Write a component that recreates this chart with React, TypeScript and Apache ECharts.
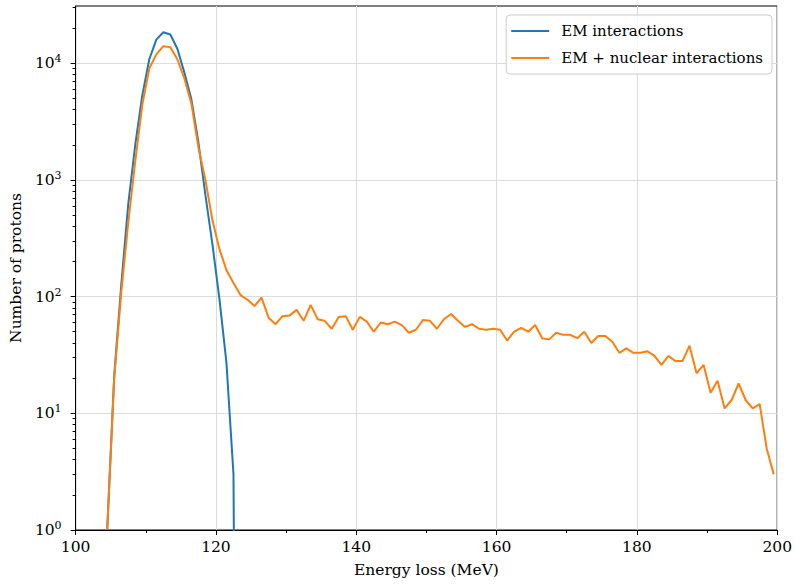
import React, { useEffect, useRef } from "react";
import * as echarts from "echarts";

// Histogram: 1 MeV bins, values plotted at bin centres starting at 104.5 MeV
const FIRST_BIN_CENTER = 104.5;
const BIN_WIDTH = 1;

// EM interactions only (zero counts after the last bin)
const emCounts = [
  1, 21, 125, 620, 2000, 5300, 10800, 15900, 18400, 17600, 13300, 8300, 4900, 2100, 740,
  280, 95, 27, 3, 0,
];

// EM + nuclear interactions
const emNuclearCounts = [
  1, 20, 108, 430, 1450, 4400, 9000, 11900, 14000, 13700, 10800, 7400, 4500, 1900, 1000,
  450, 255, 168, 131, 103, 94, 83, 98, 66, 58, 68, 69, 77, 62, 85,
  64, 62, 53, 67, 68, 52, 67, 61, 50, 60, 58, 61, 57, 49, 52,
  63, 62, 53, 64, 71, 62, 55, 58, 53, 52, 53, 52, 42, 50, 54,
  50, 57, 44, 43, 49, 47, 47, 44, 50, 40, 46, 46, 41, 33, 36,
  33, 33, 34, 31, 26, 31, 28, 28, 38, 22, 26, 15, 19, 11, 13,
  18, 13, 11, 12, 5, 3,
];

const X_MIN = 100;
const X_MAX = 200;
const X_INTERVAL = 20;
const Y_MIN = 1;
const Y_MAX = 30900;
const yMajorTicks = [1, 10, 100, 1000, 10000];
const yMinorMultipliers = [2, 3, 4, 5, 6, 7, 8, 9];

const FONT = "DejaVu Serif";

// zero counts are drawn (as in a clipped log plot) far below the axis
const ZERO_STANDIN = 1e-9;

function toSeries(counts: number[]) {
  return counts.map((c, i) => [FIRST_BIN_CENTER + i * BIN_WIDTH, c > 0 ? c : ZERO_STANDIN]);
}

export default function App() {
  const ref = useRef<HTMLDivElement>(null);

  useEffect(() => {
    if (!ref.current) return;
    const chart = echarts.init(ref.current, null, { renderer: "svg" });

    const yMinorTicks: number[] = [];
    yMajorTicks.forEach((d) =>
      yMinorMultipliers.forEach((m) => {
        if (d * m < Y_MAX) yMinorTicks.push(d * m);
      })
    );

    const option: any = {
      animation: false,
      backgroundColor: "#ffffff",
      textStyle: { fontFamily: FONT },
      grid: {
        left: 73,
        right: 14,
        top: 6,
        bottom: 56,
        show: true,
        borderColor: "#000",
        borderWidth: 1,
        backgroundColor: "transparent",
      },
      legend: {
        data: ["EM interactions", "EM + nuclear interactions"],
        orient: "vertical",
        right: 23,
        top: 15,
        icon: "rect",
        itemWidth: 38,
        itemHeight: 2.2,
        itemGap: 9,
        padding: [7, 9, 7, 5],
        borderColor: "#cccccc",
        borderWidth: 1,
        borderRadius: 4,
        backgroundColor: "rgba(255,255,255,0.8)",
        textStyle: {
          fontFamily: FONT,
          fontSize: 15,
          color: "#000",
          padding: [0, 0, 0, 7],
          lineHeight: 18,
        },
      },
      xAxis: {
        type: "value",
        min: X_MIN,
        max: X_MAX,
        interval: X_INTERVAL,
        name: "Energy loss (MeV)",
        nameLocation: "middle",
        nameGap: 32,
        nameTextStyle: { fontFamily: FONT, fontSize: 15.5, color: "#000" },
        axisLine: { show: true, lineStyle: { color: "#000", width: 1 } },
        axisTick: { show: true, length: 5, inside: false, lineStyle: { color: "#000", width: 1 } },
        minorTick: { show: true, splitNumber: 2, length: 3, lineStyle: { color: "#000", width: 1 } },
        axisLabel: { fontFamily: FONT, fontSize: 15.5, color: "#000", margin: 9 },
        splitLine: { show: true, lineStyle: { color: "#dcdcdc", width: 1 } },
      },
      yAxis: [
        {
          type: "log",
          logBase: 10,
          min: Y_MIN,
          max: Y_MAX,
          position: "left",
          name: "Number of protons",
          nameLocation: "middle",
          nameGap: 46,
          nameTextStyle: { fontFamily: FONT, fontSize: 15.5, color: "#000" },
          axisLine: { show: true, lineStyle: { color: "#000", width: 1 } },
          axisTick: {
            show: true,
            length: 5,
            inside: false,
            customValues: yMajorTicks,
            lineStyle: { color: "#000", width: 1 },
          },
          axisLabel: {
            customValues: yMajorTicks,
            margin: 14,
            formatter: (v: number) => `{b|10}{s|${Math.round(Math.log10(v))}}`,
            rich: {
              b: { fontFamily: FONT, fontSize: 15.5, color: "#000", lineHeight: 20 },
              s: { fontFamily: FONT, fontSize: 11, color: "#000", verticalAlign: "top", lineHeight: 12 },
            },
          },
          splitLine: { show: true, lineStyle: { color: "#dcdcdc", width: 1 } },
        },
        {
          type: "log",
          logBase: 10,
          min: Y_MIN,
          max: Y_MAX,
          position: "left",
          offset: 0,
          axisLine: { show: false },
          axisTick: {
            show: true,
            length: 3,
            inside: false,
            customValues: yMinorTicks,
            lineStyle: { color: "#000", width: 1 },
          },
          axisLabel: { show: false },
          splitLine: { show: false },
        },
      ],
      series: [
        {
          name: "EM interactions",
          type: "line",
          data: toSeries(emCounts),
          yAxisIndex: 0,
          showSymbol: false,
          symbol: "none",
          clip: true,
          lineStyle: { color: "#1f77b4", width: 2 },
          itemStyle: { color: "#1f77b4" },
        },
        {
          name: "EM + nuclear interactions",
          type: "line",
          data: toSeries(emNuclearCounts),
          yAxisIndex: 0,
          showSymbol: false,
          symbol: "none",
          clip: true,
          lineStyle: { color: "#ff7f0e", width: 2 },
          itemStyle: { color: "#ff7f0e" },
        },
      ],
    };

    chart.setOption(option);
    return () => chart.dispose();
  }, []);

  return <div ref={ref} style={{ width: 795, height: 586, position: "absolute", left: 0, top: 0 }} />;
}
